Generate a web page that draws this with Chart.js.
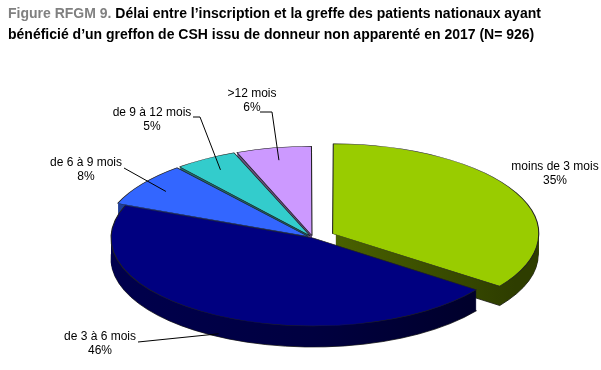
<!DOCTYPE html>
<html>
<head>
<meta charset="utf-8">
<script src="https://cdn.jsdelivr.net/npm/chart.js@4"></script>
<style>
  body { margin: 0; background: #fff; }
  #wrap { position: relative; width: 601px; height: 370px; }
  #titre { position: absolute; left: 8px; top: 3px; font: bold 14px "Liberation Sans", Arial, sans-serif; line-height: 21px; color: #000; z-index: 2; }
  #titre span { color: #808080; }
  canvas { position: absolute; left: 0; top: 0; }
</style>
</head>
<body>
<div id="wrap">
  <div id="titre"><span>Figure RFGM 9.</span> Délai entre l’inscription et la greffe des patients nationaux ayant<br>bénéficié d’un greffon de CSH issu de donneur non apparenté en 2017 (N= 926)</div>
  <canvas id="myChart" width="601" height="370"></canvas>
</div>
<script>
const categories = ['moins de 3 mois', 'de 3 à 6 mois', 'de 6 à 9 mois', 'de 9 à 12 mois', '>12 mois']
const pourcentages = [35, 46, 8, 5, 6]
const couleurs = ['#99cc00', '#000080', '#3366ff', '#33cccc', '#cc99ff']
const eclatement = [66, 0, 18, 16, 16]

// ellipse du dessus (centre, rayons) et épaisseur de la part
const CX = 313, CY = 238, RX = 202, RY = 88, EPAIS = 21

// position du texte des étiquettes et coude du trait
const etiquettes = [
  { x: 555, y: 167, trait: null },
  { x: 100, y: 337, trait: [[138, 342]], bas: true },
  { x: 86, y: 163, trait: [[124, 168]] },
  { x: 152, y: 113, trait: [[193, 117], [200, 117]] },
  { x: 252, y: 94, trait: [[260, 112], [272, 112]] }
]

const assombrir = (hex, f) => {
  const n = parseInt(hex.slice(1), 16)
  const r = Math.round(((n >> 16) & 255) * f)
  const g = Math.round(((n >> 8) & 255) * f)
  const b = Math.round((n & 255) * f)
  return `rgb(${r},${g},${b})`
}

// chemin d'une part, avec le même décalage que Chart.js
const cheminPart = (ctx, a) => {
  const circ = a.endAngle - a.startAngle
  const off = (a.options.offset || 0) / 4
  const fix = 1 - Math.sin(Math.min(Math.PI, circ))
  const t = off * (1 + fix)
  const mid = (a.startAngle + a.endAngle) / 2
  const x = a.x + Math.cos(mid) * t
  const y = a.y + Math.sin(mid) * t
  ctx.beginPath()
  ctx.moveTo(x, y)
  ctx.arc(x, y, a.outerRadius, a.startAngle, a.endAngle)
  ctx.closePath()
}

const pie3d = {
  id: 'pie3d',
  beforeDatasetsDraw(chart) {
    const ctx = chart.ctx
    const arcs = chart.getDatasetMeta(0).data
    const a0 = arcs[0]
    const sx = RX / a0.outerRadius, sy = RY / a0.outerRadius
    const degrades = couleurs.map(c => {
      const g = ctx.createLinearGradient(CX - RX, 0, CX + RX, 0)
      g.addColorStop(0, assombrir(c, 0.6))
      g.addColorStop(0.5, assombrir(c, 0.5))
      g.addColorStop(1, assombrir(c, 0.3))
      return g
    })
    for (let d = EPAIS; d >= 0.5; d -= 0.5) {
      arcs.forEach((a, i) => {
        ctx.save()
        ctx.translate(CX, CY + d)
        ctx.scale(sx, sy)
        ctx.translate(-a0.x, -a0.y)
        cheminPart(ctx, a)
        ctx.restore()
        ctx.fillStyle = degrades[i]
        ctx.fill()
        if (d === EPAIS) {
          ctx.strokeStyle = '#111'
          ctx.lineWidth = 0.8
          ctx.stroke()
        }
      })
    }
    ctx.save()
    ctx.translate(CX, CY)
    ctx.scale(sx, sy)
    ctx.translate(-a0.x, -a0.y)
  },
  afterDatasetsDraw(chart) {
    chart.ctx.restore()
  },
  afterDraw(chart) {
    const ctx = chart.ctx
    const arcs = chart.getDatasetMeta(0).data
    ctx.save()
    ctx.font = '12px "Liberation Sans", Arial, sans-serif'
    ctx.fillStyle = '#000'
    ctx.textAlign = 'center'
    ctx.textBaseline = 'middle'
    ctx.strokeStyle = '#000'
    ctx.lineWidth = 1
    etiquettes.forEach((e, i) => {
      ctx.fillText(categories[i], e.x, e.y)
      ctx.fillText(pourcentages[i] + '%', e.x, e.y + 14)
      if (!e.trait) return
      const a = arcs[i]
      const mid = (a.startAngle + a.endAngle) / 2
      const r = e.bas ? 0.97 : 0.9
      const px = CX + Math.cos(mid) * RX * r
      const py = CY + Math.sin(mid) * RY * r + (e.bas ? EPAIS : 0)
      ctx.beginPath()
      ctx.moveTo(e.trait[0][0], e.trait[0][1])
      e.trait.slice(1).forEach(p => ctx.lineTo(p[0], p[1]))
      ctx.lineTo(px, py)
      ctx.stroke()
    })
    ctx.restore()
  }
}

const grafica = new Chart(document.getElementById('myChart'), {
  type: 'pie',
  data: {
    labels: categories,
    datasets: [{
      data: pourcentages,
      backgroundColor: couleurs,
      borderColor: '#222',
      borderWidth: 0.8,
      offset: eclatement,
      clip: false
    }]
  },
  options: {
    responsive: false,
    animation: false,
    events: [],
    plugins: {
      legend: { display: false },
      tooltip: { enabled: false }
    }
  },
  plugins: [pie3d]
})
</script>
</body>
</html>
